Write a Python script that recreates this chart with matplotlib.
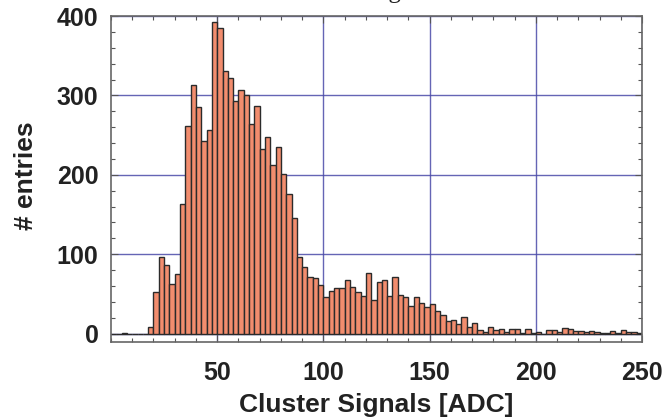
import numpy as np
import matplotlib
matplotlib.use("Agg")
import matplotlib.pyplot as plt
from matplotlib.ticker import MultipleLocator

# histogram: 100 bins of 2.5 ADC from 0 to 250
bin_lo, bin_hi, n_bins = 0.0, 250.0, 100
counts = [0, 0, 1, 0, 0, 0, 0, 9, 52, 97,
          86, 63, 75, 163, 261, 313, 285, 243, 257, 392,
          385, 331, 322, 293, 307, 300, 264, 287, 232, 248,
          213, 235, 201, 176, 146, 96, 84, 71, 70, 61,
          46, 54, 58, 58, 67, 59, 52, 47, 76, 42,
          65, 67, 48, 71, 49, 46, 35, 46, 38, 34,
          37, 29, 24, 16, 17, 12, 21, 8, 13, 4,
          2, 8, 4, 6, 2, 6, 6, 1, 6, 1,
          2, 0, 5, 4, 2, 7, 6, 3, 3, 2,
          3, 2, 1, 1, 3, 1, 5, 2, 2, 1]
x_ticks = [50, 100, 150, 200, 250]
y_ticks = [0, 100, 200, 300, 400]

edges = np.linspace(bin_lo, bin_hi, n_bins + 1)
width = edges[1] - edges[0]

plt.rcParams['font.family'] = ['Liberation Sans', 'DejaVu Sans']

fig = plt.figure(figsize=(6.72, 4.19), dpi=100)
ax = fig.add_axes([0.1652, 0.1838, 0.7902, 0.778])

ax.bar(edges[:-1], counts, width=width, align='edge',
       color='#f28d6e', edgecolor='#2b2b2b', linewidth=1.0, zorder=2)

ax.set_xlim(0, 250)
ax.set_ylim(-10.5, 400)
ax.set_xticks(x_ticks)
ax.set_yticks(y_ticks)
ax.xaxis.set_minor_locator(MultipleLocator(10))
ax.yaxis.set_minor_locator(MultipleLocator(20))
ax.set_axisbelow(True)
ax.grid(True, which='major', color='#4a4aa8', linewidth=1.0, alpha=0.85)

ax.tick_params(which='both', direction='in', top=True, right=True,
               color='#555555', width=0.8)
ax.tick_params(which='major', length=5, labelsize=18)
ax.tick_params(which='minor', length=3)
ax.tick_params(axis='x', which='major', pad=14)
ax.tick_params(axis='y', which='major', pad=9)
for lab in ax.get_xticklabels() + ax.get_yticklabels():
    lab.set_fontweight('bold')
    lab.set_color('#222222')
for s in ax.spines.values():
    s.set_color('#666666')
    s.set_linewidth(1.2)

ax.set_xlabel('Cluster Signals [ADC]', fontsize=19, fontweight='bold', color='#222222')
ax.set_ylabel('# entries', fontsize=19, fontweight='bold', color='#222222')
ax.xaxis.set_label_coords(0.5, -0.155)
ax.yaxis.set_label_coords(-0.137, 0.51)

# title sits mostly above the canvas, only the descender is visible
fig.text(0.536, 1.004, 'Cluster Signal', fontsize=18, family='Liberation Serif',
         ha='center', va='baseline', color='#222222')

fig.savefig('out.png', dpi=100)
